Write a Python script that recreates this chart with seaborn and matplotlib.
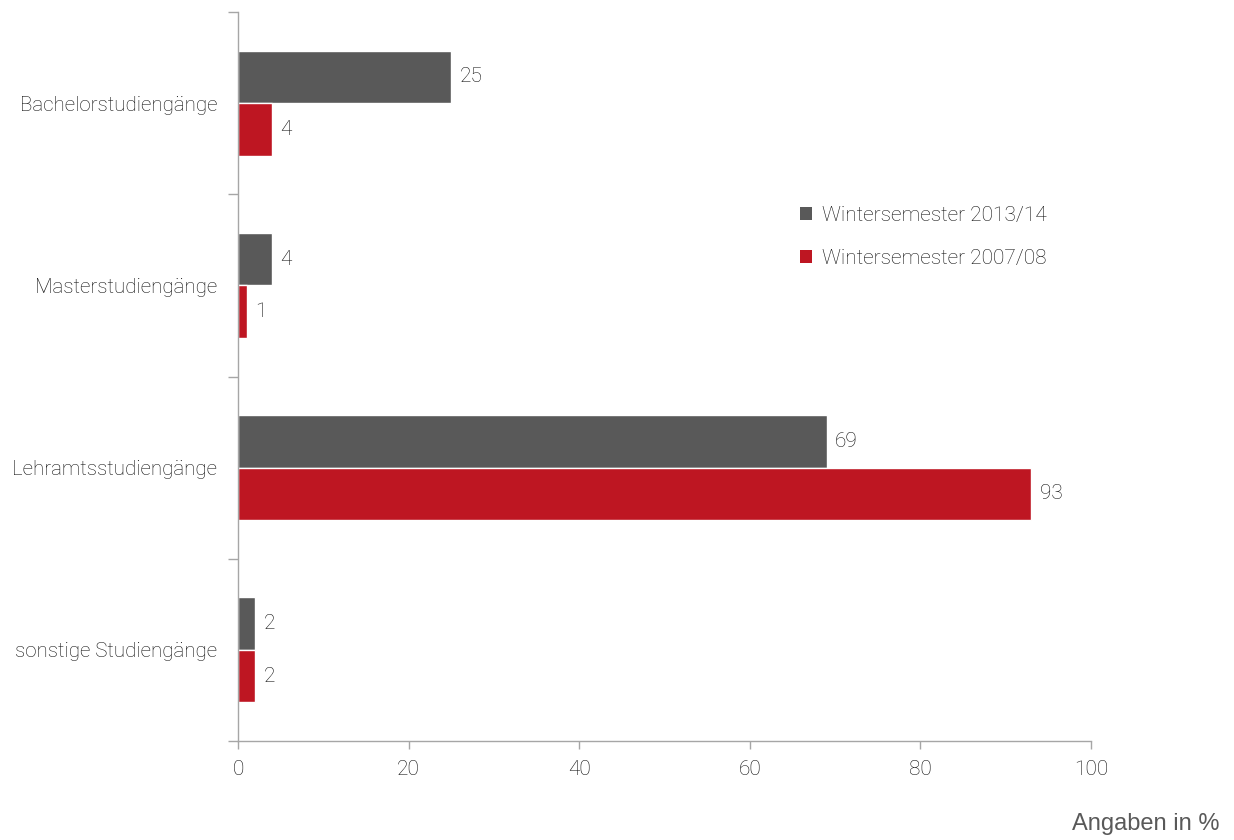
import matplotlib
matplotlib.use("Agg")
import matplotlib.pyplot as plt
import seaborn as sns
import pandas as pd

categories = ["Bachelorstudiengänge", "Masterstudiengänge", "Lehramtsstudiengänge", "sonstige Studiengänge"]
series_names = ["Wintersemester 2013/14", "Wintersemester 2007/08"]
values_2013 = [25, 4, 69, 2]
values_2007 = [4, 1, 93, 2]
x_ticks = [0, 20, 40, 60, 80, 100]
colors = ["#595959", "#BE1622"]

sns.set_theme(style="white")
plt.rcParams['font.family'] = ['Roboto', 'DejaVu Sans']

df = pd.DataFrame({
    "cat": categories * 2,
    "series": [series_names[0]] * 4 + [series_names[1]] * 4,
    "val": values_2013 + values_2007,
})

fig = plt.figure(figsize=(12.34, 8.4), dpi=100)
ax = fig.add_axes([238/1234, 1-741/840, (1091-238)/1234, (741-12)/840])
sns.barplot(data=df, y="cat", x="val", hue="series", palette=colors,
            orient="h", width=0.575, ax=ax, legend=False, saturation=1)

txtc = "#111111"
fs = 15
for cont in ax.containers:
    ax.bar_label(cont, labels=[f"{v:g}" for v in cont.datavalues], padding=6,
                 fontsize=fs, color=txtc, fontweight="light")

ax.set_xlim(0, 100)
ax.set_ylim(3.5, -0.5)
ax.set_xticks(x_ticks)
ax.set_xticklabels([str(t) for t in x_ticks], fontsize=fs, color=txtc, fontweight="light")
ax.set_yticks([-0.5, 0.5, 1.5, 2.5, 3.5])
ax.set_yticklabels([])
ax.set_yticks([0, 1, 2, 3], minor=True)
ax.set_yticklabels(categories, minor=True, fontsize=14.8, color=txtc, fontweight="light")
ax.tick_params(axis="y", which="major", length=7, width=1, color="#a6a6a6", direction="out", left=True)
ax.tick_params(axis="y", which="minor", length=0, pad=15)
ax.tick_params(axis="x", length=6, width=1, color="#a6a6a6", direction="out", bottom=True, pad=8)
ax.set_xlabel("")
ax.set_ylabel("")
for s in ["top", "right"]:
    ax.spines[s].set_visible(False)
for s in ["left", "bottom"]:
    ax.spines[s].set_color("#a6a6a6")
    ax.spines[s].set_linewidth(1)

from matplotlib.patches import Patch
handles = [Patch(facecolor=c, edgecolor="none") for c in colors]
leg = fig.legend(handles, series_names, loc="upper left", bbox_to_anchor=(781/1234, 1-187/840),
                 frameon=False, handlelength=0.6, handleheight=0.6, handletextpad=0.45,
                 labelspacing=1.15, prop={"size": fs, "weight": "light"})
for t in leg.get_texts():
    t.set_color(txtc)

fig.text(1220/1234, 1-824/840, "Angaben in %", ha="right", va="center",
         fontsize=17, color="#595959", family=["Liberation Sans", "DejaVu Sans"])

fig.savefig("out.png", dpi=100)
